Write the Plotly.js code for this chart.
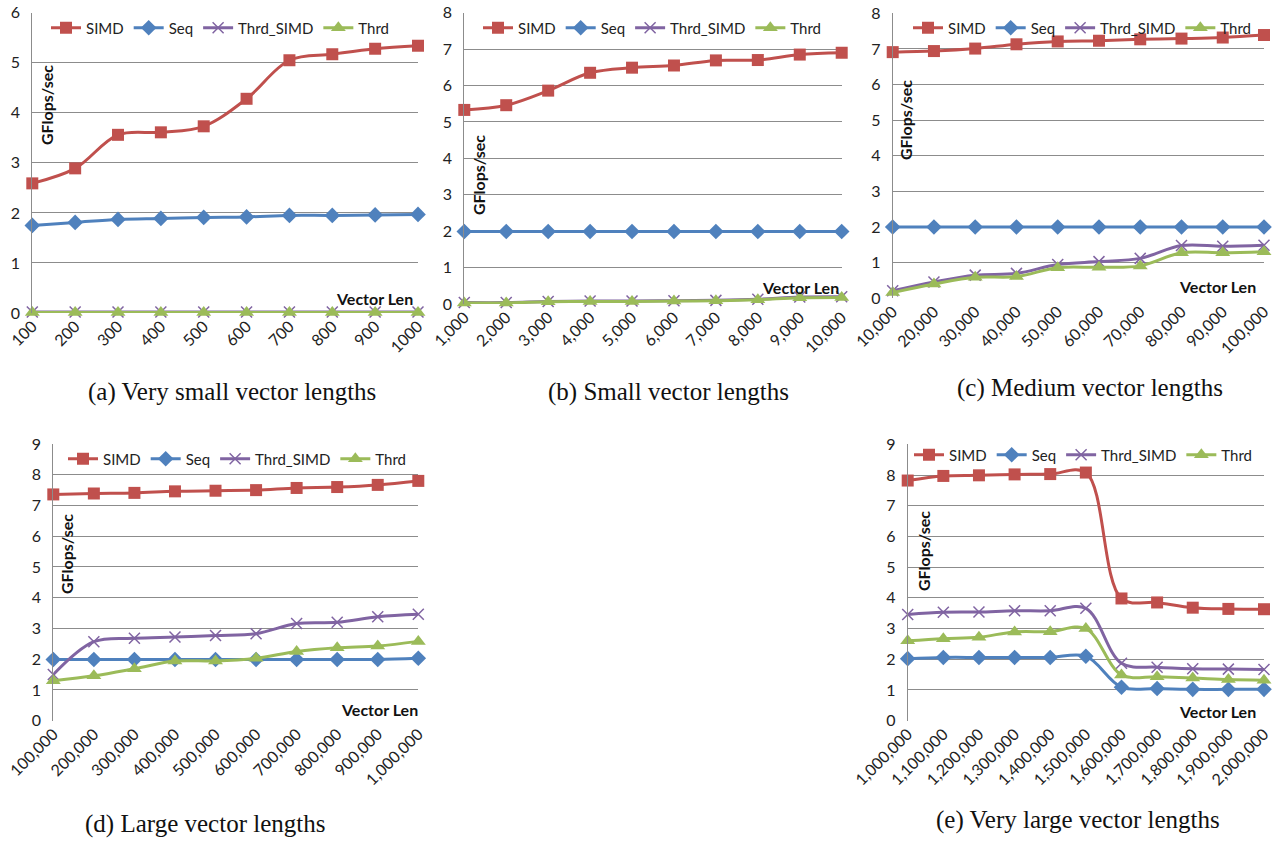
<!DOCTYPE html>
<html>
<head>
<meta charset="utf-8">
<script src="https://cdn.plot.ly/plotly-3.0.1.min.js"></script>
<style>html,body{margin:0;padding:0;background:#fff;}#chart{width:1281px;height:841px;}</style>
</head>
<body>
<div id="chart"></div>
<script>
// ---------- DATA ----------
const seriesNames = ['SIMD', 'Seq', 'Thrd_SIMD', 'Thrd'];

const xA = ['100','200','300','400','500','600','700','800','900','1000'];
const simdA = [2.59, 2.89, 3.56, 3.61, 3.73, 4.28, 5.05, 5.17, 5.28, 5.34];
const seqA = [1.75, 1.81, 1.87, 1.89, 1.91, 1.92, 1.95, 1.95, 1.96, 1.97];
const thrdSimdA = [0.02, 0.02, 0.02, 0.02, 0.02, 0.02, 0.02, 0.02, 0.02, 0.02];
const thrdA = [0.01, 0.01, 0.01, 0.01, 0.01, 0.01, 0.01, 0.01, 0.01, 0.01];

const xB = ['1,000','2,000','3,000','4,000','5,000','6,000','7,000','8,000','9,000','10,000'];
const simdB = [5.33, 5.46, 5.86, 6.35, 6.49, 6.55, 6.69, 6.70, 6.85, 6.90];
const seqB = [1.99, 1.99, 1.99, 1.99, 1.99, 1.99, 1.99, 1.99, 1.99, 1.99];
const thrdSimdB = [0.04, 0.04, 0.07, 0.08, 0.08, 0.09, 0.10, 0.13, 0.19, 0.20];
const thrdB = [0.03, 0.03, 0.06, 0.07, 0.07, 0.08, 0.09, 0.12, 0.17, 0.18];

const xC = ['10,000','20,000','30,000','40,000','50,000','60,000','70,000','80,000','90,000','100,000'];
const simdC = [6.91, 6.94, 7.01, 7.13, 7.21, 7.23, 7.27, 7.29, 7.32, 7.39];
const seqC = [2.00, 2.00, 2.00, 2.00, 2.00, 2.00, 2.00, 2.00, 2.00, 2.00];
const thrdSimdC = [0.21, 0.46, 0.65, 0.70, 0.95, 1.03, 1.12, 1.48, 1.46, 1.49];
const thrdC = [0.16, 0.40, 0.59, 0.61, 0.86, 0.87, 0.91, 1.28, 1.28, 1.31];

const xD = ['100,000','200,000','300,000','400,000','500,000','600,000','700,000','800,000','900,000','1,000,000'];
const simdD = [7.36, 7.39, 7.41, 7.46, 7.48, 7.50, 7.57, 7.60, 7.67, 7.80];
const seqD = [1.99, 1.99, 1.99, 1.99, 1.99, 1.99, 1.99, 1.99, 1.99, 2.03];
const thrdSimdD = [1.50, 2.57, 2.68, 2.72, 2.77, 2.83, 3.16, 3.20, 3.38, 3.46];
const thrdD = [1.30, 1.46, 1.69, 1.94, 1.94, 2.03, 2.25, 2.37, 2.43, 2.58];

const xE = ['1,000,000','1,100,000','1,200,000','1,300,000','1,400,000','1,500,000','1,600,000','1,700,000','1,800,000','1,900,000','2,000,000'];
const simdE = [7.82, 7.97, 7.99, 8.02, 8.03, 8.08, 3.98, 3.85, 3.68, 3.64, 3.63];
const seqE = [2.02, 2.06, 2.06, 2.06, 2.06, 2.10, 1.09, 1.05, 1.02, 1.02, 1.02];
const thrdSimdE = [3.46, 3.53, 3.54, 3.58, 3.58, 3.66, 1.87, 1.74, 1.69, 1.68, 1.67];
const thrdE = [2.60, 2.67, 2.72, 2.89, 2.90, 3.00, 1.49, 1.43, 1.39, 1.34, 1.32];

const captions = ['(a) Very small vector lengths', '(b) Small vector lengths', '(c) Medium vector lengths', '(d) Large vector lengths', '(e) Very large vector lengths'];
const yTitle = 'GFlops/sec';
const xTitle = 'Vector Len';

// ---------- LAYOUT HELPERS ----------
const W = 1281, H = 841;
const px = v => v / W;
const py = v => 1 - v / H;

const panels = [
  {x: xA, s: [simdA, seqA, thrdSimdA, thrdA], ymax: 6, box: [32.3, 418, 12.7, 313], leg: [46, 28], yt: [46, 105], xt: [374, 298], cap: [232, 392]},
  {x: xB, s: [simdB, seqB, thrdSimdB, thrdB], ymax: 8, box: [464.3, 841.7, 12.7, 304], leg: [478, 28], yt: [478, 175], xt: [800, 288], cap: [668, 392]},
  {x: xC, s: [simdC, seqC, thrdSimdC, thrdC], ymax: 8, box: [892.7, 1264, 13.3, 298.3], leg: [908, 28], yt: [905, 120], xt: [1217, 286], cap: [1090, 388]},
  {x: xD, s: [simdD, seqD, thrdSimdD, thrdD], ymax: 9, box: [53.3, 418.3, 444, 720.7], leg: [63, 459], yt: [66, 554], xt: [379, 709], cap: [205, 824]},
  {x: xE, s: [simdE, seqE, thrdSimdE, thrdE], ymax: 9, box: [907.7, 1264, 444.3, 720.7], leg: [909, 455], yt: [923, 551], xt: [1217, 711], cap: [1078, 820]}
];

const styles = [
  {color: '#C0504D', symbol: 'square', size: 12, lw: 0},
  {color: '#4F81BD', symbol: 'diamond', size: 12, lw: 0},
  {color: '#8064A2', symbol: 'x-thin-open', size: 11, lw: 1.5},
  {color: '#9BBB59', symbol: 'triangle-up', size: 13, lw: 0}
];

const FONT = 'Lato, Open Sans, sans-serif';
const SERIF = 'Liberation Serif, Times New Roman, serif';
const traces = [];
const layout = {
  width: W, height: H,
  margin: {l: 0, r: 0, t: 0, b: 0},
  paper_bgcolor: '#fff', plot_bgcolor: 'rgba(0,0,0,0)',
  font: {family: FONT, size: 14, color: '#222'},
  annotations: [],
  hovermode: false
};

panels.forEach((p, i) => {
  const n = i === 0 ? '' : String(i + 1);
  const xa = 'xaxis' + n, ya = 'yaxis' + n;
  const legName = 'legend' + n;
  p.s.forEach((vals, k) => {
    const st = styles[k];
    traces.push({
      type: 'scatter', mode: 'lines+markers',
      x: p.x, y: vals, name: seriesNames[k],
      xaxis: 'x' + n, yaxis: 'y' + n,
      legend: legName,
      cliponaxis: false,
      line: {color: st.color, width: 3, shape: 'spline', smoothing: 1},
      marker: {symbol: st.symbol, size: st.size, color: st.color,
               line: {color: st.color, width: st.lw}}
    });
  });
  const [x0, x1, y0, y1] = p.box;
  layout[xa] = {
    domain: [px(x0), px(x1)], anchor: 'y' + n,
    type: 'category', range: [0, p.x.length - 1],
    tickangle: -45, showgrid: false, zeroline: false,
    showline: false, ticks: '',
    tickfont: {family: FONT, size: 16, color: '#222'},
    fixedrange: true
  };
  layout[ya] = {
    domain: [py(y1), py(y0)], anchor: 'x' + n,
    range: [0, p.ymax], dtick: 1, tick0: 0,
    showgrid: true, gridcolor: '#8c8c8c', gridwidth: 1,
    zeroline: false, showline: true, linecolor: '#8c8c8c', linewidth: 1,
    ticks: '', ticklabelstandoff: 8,
    tickfont: {family: FONT, size: 16, color: '#222'},
    fixedrange: true
  };
  layout[legName] = {
    x: px(p.leg[0]), y: py(p.leg[1]), xanchor: 'left', yanchor: 'middle',
    orientation: 'h', bgcolor: 'rgba(0,0,0,0)', borderwidth: 0,
    font: {family: FONT, size: 15, color: '#222'},
    itemclick: false, itemdoubleclick: false, tracegroupgap: 0
  };
  layout.annotations.push({
    xref: 'paper', yref: 'paper', x: px(p.yt[0]), y: py(p.yt[1]),
    text: '<b>' + yTitle + '</b>', textangle: -90, showarrow: false,
    xanchor: 'center', yanchor: 'middle',
    font: {family: FONT, size: 16, color: '#111'}
  });
  layout.annotations.push({
    xref: 'paper', yref: 'paper', x: px(p.xt[0]), y: py(p.xt[1]),
    text: '<b>' + xTitle + '</b>', showarrow: false,
    xanchor: 'center', yanchor: 'middle',
    font: {family: FONT, size: 16, color: '#111'}
  });
  layout.annotations.push({
    xref: 'paper', yref: 'paper', x: px(p.cap[0]), y: py(p.cap[1]),
    text: captions[i], showarrow: false,
    xanchor: 'center', yanchor: 'middle',
    font: {family: SERIF, size: 25, color: '#111'}
  });
});

Plotly.newPlot('chart', traces, layout, {staticPlot: true, displayModeBar: false});
</script>
</body>
</html>
